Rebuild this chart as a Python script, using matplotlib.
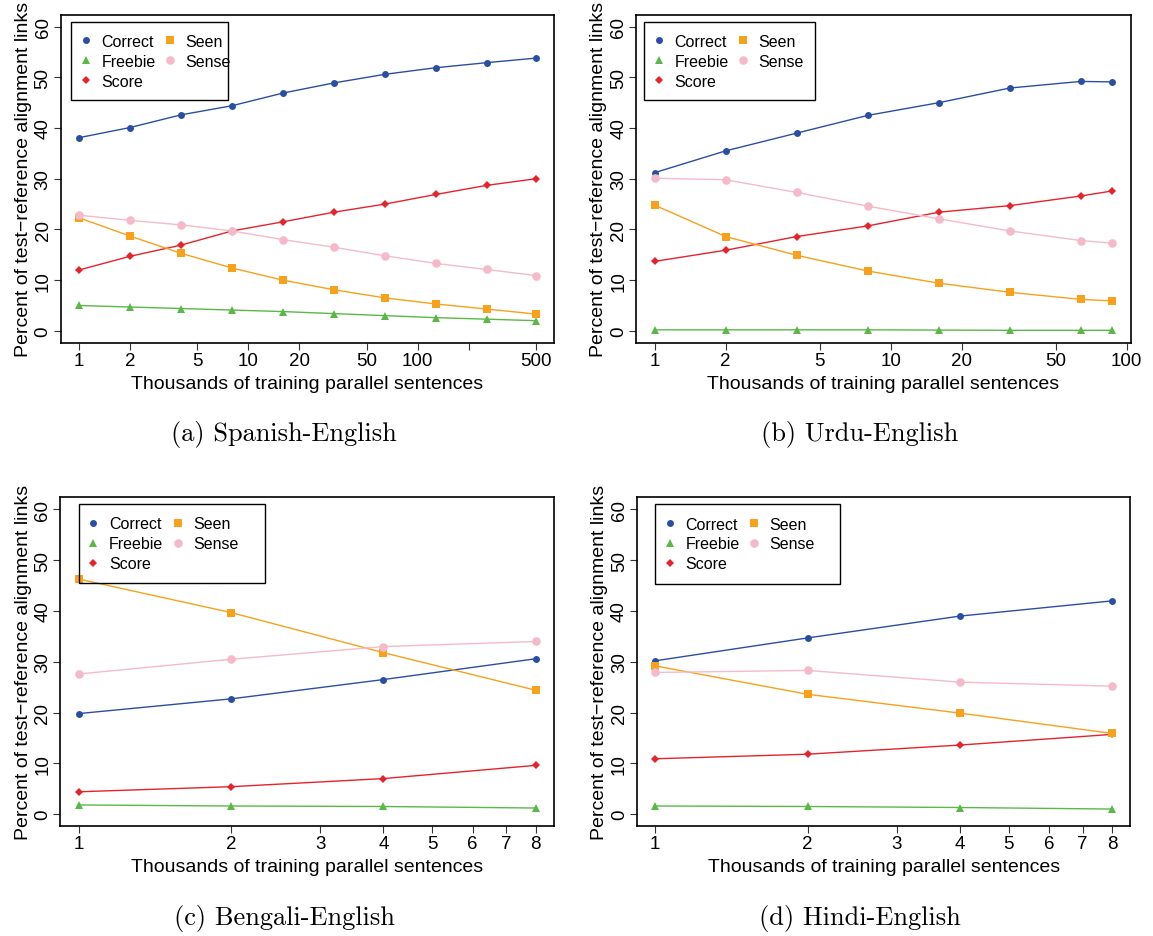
import numpy as np
import matplotlib
matplotlib.use("Agg")
import matplotlib.pyplot as plt
from matplotlib.lines import Line2D
from matplotlib.patches import Rectangle

plt.rcParams['font.family'] = ['Liberation Sans', 'DejaVu Sans']

W, H = 1153, 937

# ---- data (percent of test-reference alignment links) ----
es_x = [1, 2, 4, 8, 16, 32, 64, 128, 256, 500]
es_correct = [38.1, 40.1, 42.6, 44.4, 46.9, 48.9, 50.6, 51.9, 52.9, 53.8]
es_freebie = [5.0, 4.7, 4.4, 4.1, 3.8, 3.4, 3.0, 2.6, 2.3, 2.0]
es_score = [12.0, 14.7, 16.9, 19.7, 21.5, 23.4, 25.0, 26.9, 28.7, 30.0]
es_seen = [22.3, 18.7, 15.3, 12.4, 10.0, 8.1, 6.5, 5.3, 4.3, 3.3]
es_sense = [22.8, 21.8, 20.9, 19.7, 18.0, 16.5, 14.8, 13.3, 12.1, 10.9]

ur_x = [1, 2, 4, 8, 16, 32, 64, 87]
ur_correct = [31.2, 35.5, 39.0, 42.5, 45.0, 47.9, 49.2, 49.1]
ur_freebie = [0.2, 0.2, 0.2, 0.2, 0.15, 0.1, 0.1, 0.1]
ur_score = [13.7, 15.9, 18.6, 20.7, 23.4, 24.7, 26.6, 27.6]
ur_seen = [24.8, 18.6, 14.9, 11.8, 9.4, 7.6, 6.2, 5.9]
ur_sense = [30.1, 29.8, 27.3, 24.6, 22.1, 19.7, 17.8, 17.3]

bn_x = [1, 2, 4, 8]
bn_correct = [19.8, 22.7, 26.5, 30.6]
bn_freebie = [1.8, 1.6, 1.5, 1.2]
bn_score = [4.4, 5.4, 7.0, 9.6]
bn_seen = [46.3, 39.7, 31.8, 24.4]
bn_sense = [27.6, 30.5, 33.0, 34.0]

hi_x = [1, 2, 4, 8]
hi_correct = [30.2, 34.7, 39.0, 42.0]
hi_freebie = [1.6, 1.5, 1.3, 1.0]
hi_score = [10.9, 11.8, 13.6, 15.7]
hi_seen = [29.2, 23.6, 19.9, 15.9]
hi_sense = [27.9, 28.3, 26.0, 25.2]

captions = ["(a) Spanish-English", "(b) Urdu-English",
            "(c) Bengali-English", "(d) Hindi-English"]
es_ticks = [1, 2, 5, 10, 20, 50, 100, 200, 500]
es_ticklabels = ["1", "2", "5", "10", "20", "50", "100", "", "500"]
ur_ticks = [1, 2, 5, 10, 20, 50, 100]
small_ticks = [1, 2, 3, 4, 5, 6, 7, 8]

# series styles (draw order, legend order)
names = ["Correct", "Freebie", "Score", "Seen", "Sense"]
colors = {"Correct": "#2B4EA2", "Freebie": "#5BB848", "Score": "#E5232B",
          "Seen": "#F7A11C", "Sense": "#F5BACA"}
markers = {"Correct": "o", "Freebie": "^", "Score": "D",
           "Seen": "s", "Sense": "o"}
msizes = {"Correct": 5.0, "Freebie": 6.3, "Score": 3.8,
          "Seen": 5.6, "Sense": 6.2}

panels = [
    dict(x=es_x, ys=[es_correct, es_freebie, es_score, es_seen, es_sense],
         ticks=es_ticks, labels=es_ticklabels, capx=284,
         box=(60.7, 15.5, 554.3, 344), leg=(71.2, 22.7, 227.5, 101.3)),
    dict(x=ur_x, ys=[ur_correct, ur_freebie, ur_score, ur_seen, ur_sense],
         ticks=ur_ticks, labels=[str(t) for t in ur_ticks], capx=859.5,
         box=(636.3, 15.5, 1130.7, 344), leg=(644.1, 22.7, 815.2, 101.3)),
    dict(x=bn_x, ys=[bn_correct, bn_freebie, bn_score, bn_seen, bn_sense],
         ticks=small_ticks, labels=[str(t) for t in small_ticks], capx=284,
         box=(60.5, 498.3, 554, 827.3), leg=(78.8, 505, 264.5, 584.3)),
    dict(x=hi_x, ys=[hi_correct, hi_freebie, hi_score, hi_seen, hi_sense],
         ticks=small_ticks, labels=[str(t) for t in small_ticks], capx=859.5,
         box=(637, 498.3, 1130.3, 827.3), leg=(655.1, 505.3, 840.3, 584.7)),
]

fig = plt.figure(figsize=(W / 100, H / 100), dpi=100)

for p, cap in zip(panels, captions):
    l, t, r, b = p["box"]
    ax = fig.add_axes([l / W, 1 - b / H, (r - l) / W, (b - t) / H])

    for name, y in zip(names, p["ys"]):
        ax.plot(p["x"], y, color=colors[name], lw=1.0, zorder=2)
    for name, y in zip(names, p["ys"]):
        ax.plot(p["x"], y, ls="none", marker=markers[name], color=colors[name],
                ms=msizes[name], mew=0, zorder=3)

    ax.set_xscale("log")
    lo, hi = np.log10(min(p["x"])), np.log10(max(p["x"]))
    ext = 0.04 * (hi - lo)
    ax.set_xlim(10 ** (lo - ext), 10 ** (hi + ext))
    ax.set_ylim(-2.4, 62.4)
    ax.xaxis.set_minor_locator(matplotlib.ticker.NullLocator())
    ax.set_xticks(p["ticks"])
    ax.set_xticklabels(p["labels"])
    ax.set_yticks([0, 10, 20, 30, 40, 50, 60])
    ax.set_yticklabels(["0", "10", "20", "30", "40", "50", "60"],
                       rotation=90, va="center")
    ax.tick_params(direction="out", length=5, width=0.8, labelsize=13.5,
                   color="#333333")
    ax.tick_params(axis="x", pad=1.5)
    ax.tick_params(axis="y", pad=1.5)
    for s in ax.spines.values():
        s.set_linewidth(1.2)
    ax.set_xlabel("Thousands of training parallel sentences", fontsize=14,
                  labelpad=4)
    ax.set_ylabel("Percent of test\u2212reference alignment links",
                  fontsize=14, labelpad=2)

    # legend: frame drawn separately as a rectangle
    lx0, ly0, lx1, ly1 = p["leg"]
    fig.add_artist(Rectangle((lx0 / W, 1 - ly1 / H), (lx1 - lx0) / W,
                             (ly1 - ly0) / H, transform=fig.transFigure,
                             fill=False, lw=1.0, ec="black"))
    handles = [Line2D([], [], ls="none", marker=markers[n], color=colors[n],
                      ms=msizes[n], mew=0) for n in names]
    fig.legend(handles, names, ncol=2, loc="upper left",
               bbox_to_anchor=((lx0 + 6.6) / W, 1 - (ly0 + 12.2) / H),
               frameon=False, fontsize=11.5, borderpad=0, borderaxespad=0,
               handlelength=1.0, handletextpad=0.48, columnspacing=0.39,
               labelspacing=0.31)

    fig.text(p["capx"] / W, 1 - (b + 91) / H, cap, family="cmr10",
             fontsize=19, ha="center", va="center")

fig.savefig("out.png", dpi=100)
